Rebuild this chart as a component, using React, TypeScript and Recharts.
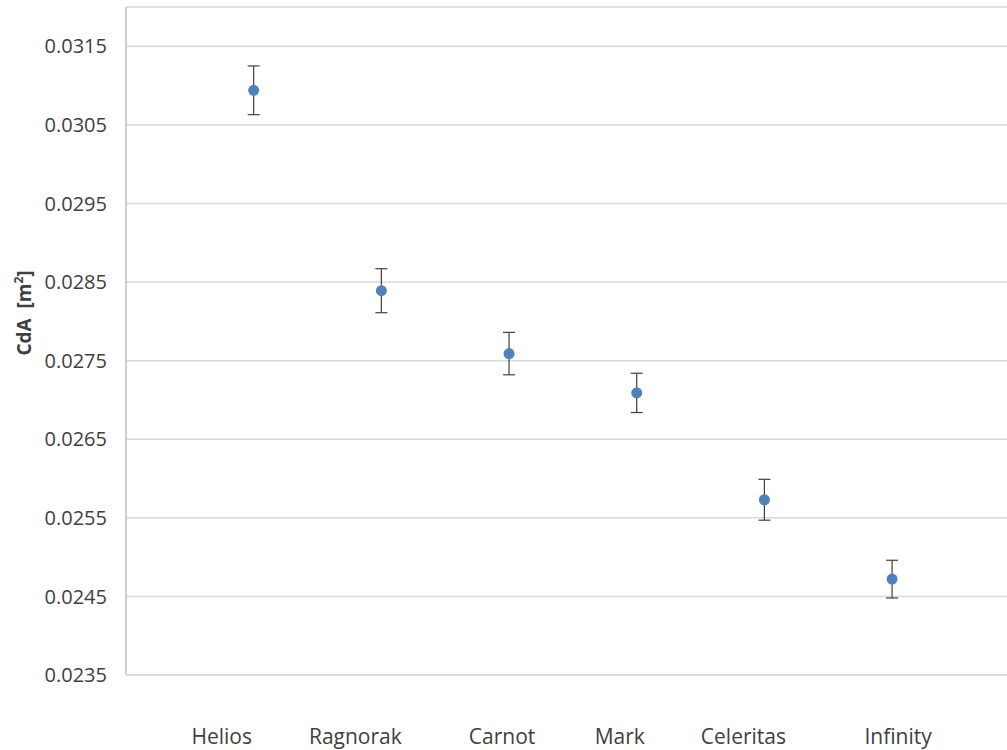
import { ScatterChart, Scatter, XAxis, YAxis, CartesianGrid, ErrorBar } from 'recharts';

const teams = ['Helios', 'Ragnorak', 'Carnot', 'Mark', 'Celeritas', 'Infinity'];
const cda = [0.03094, 0.02839, 0.02759, 0.02709, 0.02573, 0.02472];
const cdaError = [0.00031, 0.00028, 0.00027, 0.00025, 0.00026, 0.00024];
const yTicks = [0.0235, 0.0245, 0.0255, 0.0265, 0.0275, 0.0285, 0.0295, 0.0305, 0.0315];

// labels in the original sit a little off their points
const labelShift = [-32, -26, -7, -17, -21, 6];

const data = teams.map((name, i) => ({ x: i + 1, name, cda: cda[i], err: cdaError[i] }));

function TeamTick(props: any) {
  const { x, payload } = props;
  const i = payload.value - 1;
  return (
    <text
      x={x + (labelShift[i] || 0)}
      y={744}
      textAnchor="middle"
      fill="#404040"
      fontFamily="'Open Sans', sans-serif"
      fontSize={21}
    >
      {teams[i]}
    </text>
  );
}

function AxisTitle() {
  return (
    <text
      x={0}
      y={0}
      transform="translate(31, 313) rotate(-90)"
      textAnchor="middle"
      fill="#404040"
      fontFamily="'Open Sans', sans-serif"
      fontWeight="bold"
      fontSize={19}
      style={{ whiteSpace: 'pre' }}
    >
      {'CdA  [m'}
      <tspan fontSize={12} dy={-8}>2</tspan>
      <tspan dy={8}>]</tspan>
    </text>
  );
}

const Dot = (props: any) => <circle cx={props.cx} cy={props.cy} r={5.5} fill="#4f81bd" />;

export default function App() {
  return (
    <div style={{ position: 'absolute', left: 0, top: 0, width: 1007, height: 750, background: '#fff' }}>
      <ScatterChart width={1007} height={750} margin={{ top: 7, right: 0, bottom: 0, left: 0 }}>
        <CartesianGrid vertical={false} stroke="#d9d9d9" strokeWidth={1.5} />
        <XAxis
          type="number"
          dataKey="x"
          domain={[0, 6.9]}
          ticks={[1, 2, 3, 4, 5, 6]}
          height={75}
          tickLine={false}
          axisLine={{ stroke: '#d9d9d9', strokeWidth: 1.5 }}
          tick={<TeamTick />}
          interval={0}
        />
        <YAxis
          type="number"
          dataKey="cda"
          domain={[0.0235, 0.032]}
          ticks={yTicks}
          width={126}
          tickLine={false}
          tickSize={0}
          tickMargin={19}
          axisLine={{ stroke: '#bfbfbf', strokeWidth: 1.5 }}
          tickFormatter={(v: number) => v.toFixed(4)}
          tick={{ fill: '#404040', fontSize: 20, fontFamily: "'Open Sans', sans-serif" }}
          label={<AxisTitle />}
        />
        <Scatter data={data} fill="#4f81bd" isAnimationActive={false} shape={<Dot />}>
          <ErrorBar dataKey="err" direction="y" width={6} stroke="#404040" strokeWidth={1.2} />
        </Scatter>
      </ScatterChart>
    </div>
  );
}
